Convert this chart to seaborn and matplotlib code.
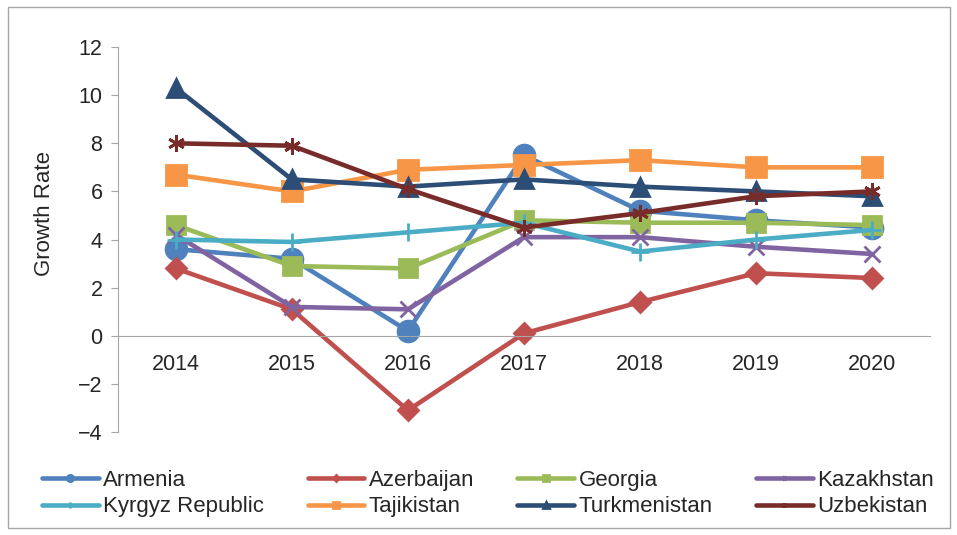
import matplotlib
matplotlib.use("Agg")
import matplotlib.pyplot as plt
from matplotlib.patches import Rectangle
import seaborn as sns

years = [2014, 2015, 2016, 2017, 2018, 2019, 2020]

armenia = [3.6, 3.2, 0.2, 7.5, 5.2, 4.8, 4.5]
azerbaijan = [2.8, 1.1, -3.1, 0.1, 1.4, 2.6, 2.4]
georgia = [4.6, 2.9, 2.8, 4.8, 4.7, 4.7, 4.6]
kazakhstan = [4.2, 1.2, 1.1, 4.1, 4.1, 3.7, 3.4]
kyrgyz = [4.0, 3.9, 4.3, 4.7, 3.5, 4.0, 4.4]
tajikistan = [6.7, 6.0, 6.9, 7.1, 7.3, 7.0, 7.0]
turkmenistan = [10.3, 6.5, 6.2, 6.5, 6.2, 6.0, 5.8]
uzbekistan = [8.0, 7.9, 6.1, 4.5, 5.1, 5.8, 6.0]

countries = ["Armenia", "Azerbaijan", "Georgia", "Kazakhstan",
             "Kyrgyz Republic", "Tajikistan", "Turkmenistan", "Uzbekistan"]
series = [armenia, azerbaijan, georgia, kazakhstan,
          kyrgyz, tajikistan, turkmenistan, uzbekistan]
colors = ["#4F81BD", "#C0504D", "#9BBB59", "#8064A2",
          "#4BACC6", "#F79646", "#2C4D75", "#772C2A"]
markers = ["o", "D", "s", "x", "+", "s", "^", (6, 2, 0)]
msizes = [15, 10, 13, 11, 13, 14, 13, 12]

sns.set_style("white")
plt.rcParams["font.family"] = ["Liberation Sans", "DejaVu Sans"]
plt.rcParams["axes.unicode_minus"] = True

fig = plt.figure(figsize=(9.57, 5.35), dpi=100)
ax = fig.add_axes([0.123, 0.1925, 0.849, 0.7195])

for name, vals, c, m, ms in zip(countries, series, colors, markers, msizes):
    sns.lineplot(x=years, y=vals, color=c, marker=m, markersize=ms,
                 mec=c, mew=2, lw=3.3, label=name, ax=ax)

ax.set_xlim(2013.5, 2020.5)
ax.set_ylim(-4, 12)
ax.set_yticks(range(-4, 13, 2))
ax.set_xticks(years)

for s in ["top", "right"]:
    ax.spines[s].set_visible(False)
ax.spines["bottom"].set_position(("data", 0))
ax.spines["bottom"].set_color("#A6A6A6")
ax.spines["left"].set_color("#A6A6A6")
ax.tick_params(axis="x", length=0, labelsize=15.5, pad=13)
ax.tick_params(axis="y", length=5, color="#A6A6A6", direction="out",
               labelsize=15.5, pad=6, left=True)
ax.set_ylabel("")
ax.set_xlabel("")

fig.text(0.047, 0.6, "Growth Rate", rotation=90, fontsize=16,
         ha="center", va="center")

handles, labels = ax.get_legend_handles_labels()
order = [0, 4, 1, 5, 2, 6, 3, 7]
ax.legend([handles[i] for i in order], [labels[i] for i in order],
          ncol=4, loc="upper left", bbox_to_anchor=(0.044, 0.122),
          bbox_transform=fig.transFigure, frameon=False, fontsize=16,
          handlelength=2.55, handletextpad=0.2, columnspacing=1.95,
          labelspacing=0.25, markerscale=0.3, borderaxespad=0,
          borderpad=0)

fig.patches.append(Rectangle((0.008, 0.014), 0.985, 0.972,
                             transform=fig.transFigure, fill=False,
                             edgecolor="#A6A6A6", lw=1))

fig.savefig("out.png", dpi=100)
